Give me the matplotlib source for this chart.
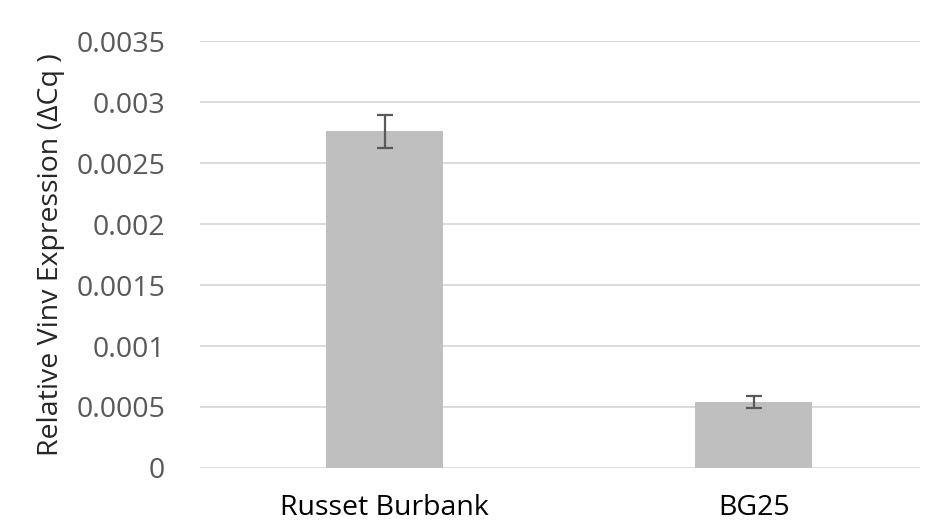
import numpy as np
import matplotlib
matplotlib.use('Agg')
import matplotlib.pyplot as plt

# values
cultivars = ['Russet Burbank', 'BG25']
expression = [0.00276, 0.000541]
expression_err = [0.000135, 0.000053]
y_ticks = [0, 0.0005, 0.001, 0.0015, 0.002, 0.0025, 0.003, 0.0035]
y_tick_labels = ['0', '0.0005', '0.001', '0.0015', '0.002', '0.0025', '0.003', '0.0035']

plt.rcParams['font.family'] = ['Open Sans', 'DejaVu Sans']

fig = plt.figure(figsize=(9.28, 5.27), dpi=100)
ax = fig.add_axes([0.2155, 0.112, 0.7755, 0.81])

x = np.arange(len(cultivars))
ax.bar(x, expression, width=0.316, color='#bfbfbf', zorder=2)
ax.errorbar(x, expression, yerr=expression_err, fmt='none', ecolor='#595959',
            elinewidth=1.6, capsize=5.5, capthick=1.6, zorder=3)

ax.set_ylim(0, 0.0035)
ax.set_xlim(-0.5, 1.45)
ax.set_yticks(y_ticks)
ax.set_yticklabels(y_tick_labels, fontsize=20.5, color='#595959')
ax.set_xticks(x)
ax.set_xticklabels(cultivars, fontsize=20.5, color='#000000')
ax.tick_params(axis='both', length=0)
ax.tick_params(axis='y', pad=25)
ax.tick_params(axis='x', pad=19)
ax.grid(axis='y', color='#d9d9d9', linewidth=1.3, zorder=0)
for s in ax.spines.values():
    s.set_visible(False)

ax.set_ylabel('Relative Vinv Expression (ΔCq )', fontsize=20.5, color='#262626', labelpad=8)

fig.savefig('out.png', dpi=100)
